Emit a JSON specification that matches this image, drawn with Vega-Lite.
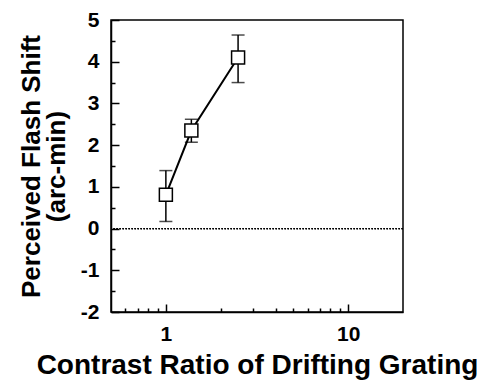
{
  "$schema": "https://vega.github.io/schema/vega-lite/v6.json",
  "width": 292,
  "height": 292,
  "autosize": {"type": "none"},
  "padding": {"left": 111, "top": 20, "right": 74, "bottom": 73},
  "background": "white",
  "data": {
    "values": [
      {"contrast": 1.0, "shift": 0.81, "lo": 0.17, "hi": 1.39},
      {"contrast": 1.38, "shift": 2.35, "lo": 2.07, "hi": 2.62},
      {"contrast": 2.49, "shift": 4.10, "lo": 3.50, "hi": 4.64}
    ]
  },
  "encoding": {
    "x": {
      "field": "contrast",
      "type": "quantitative",
      "scale": {"type": "log", "domain": [0.5, 20], "nice": false},
      "axis": {
        "title": "Contrast Ratio of Drifting Grating",
        "values": [0.6, 0.7, 0.8, 0.9, 1, 2, 3, 4, 5, 6, 7, 8, 9, 10],
        "labelExpr": "datum.value == 1 || datum.value == 10 ? '' + datum.value : ''",
        "tickSize": {"condition": {"test": "datum.value == 1 || datum.value == 10", "value": -8}, "value": -4},
        "labelPadding": 19,
        "titleY": 61,
        "titleBaseline": "alphabetic",
        "titleFontSize": 28
      }
    },
    "y": {
      "field": "shift",
      "type": "quantitative",
      "scale": {"domain": [-2, 5], "nice": false, "zero": false},
      "axis": {
        "title": ["Perceived Flash Shift", "(arc-min)"],
        "values": [-2, -1.5, -1, -0.5, 0, 0.5, 1, 1.5, 2, 2.5, 3, 3.5, 4, 4.5, 5],
        "labelExpr": "datum.value % 1 == 0 ? '' + datum.value : ''",
        "tickSize": {"condition": {"test": "datum.value % 1 == 0", "value": -8}, "value": -4},
        "labelPadding": 20,
        "titleX": -72,
        "titleBaseline": "alphabetic",
        "titleFontSize": 26,
        "titleLineHeight": 25
      }
    }
  },
  "layer": [
    {
      "mark": {"type": "rule", "color": "black", "strokeWidth": 1.2, "strokeDash": [1.5, 1.5]},
      "encoding": {"y": {"datum": 0}, "x": null}
    },
    {
      "mark": {"type": "rule", "color": "black", "strokeWidth": 1.5},
      "encoding": {"y": {"field": "lo", "type": "quantitative"}, "y2": {"field": "hi"}}
    },
    {
      "mark": {"type": "tick", "orient": "horizontal", "color": "black", "size": 13, "thickness": 1.5},
      "encoding": {"y": {"field": "lo", "type": "quantitative"}}
    },
    {
      "mark": {"type": "tick", "orient": "horizontal", "color": "black", "size": 13, "thickness": 1.5},
      "encoding": {"y": {"field": "hi", "type": "quantitative"}}
    },
    {
      "mark": {"type": "line", "color": "black", "strokeWidth": 2}
    },
    {
      "mark": {"type": "point", "shape": "square", "size": 169, "filled": true, "fill": "white", "stroke": "black", "strokeWidth": 1.5, "opacity": 1}
    }
  ],
  "config": {
    "view": {"stroke": "black", "strokeWidth": 1.5},
    "font": "Liberation Sans",
    "axis": {
      "grid": false,
      "domainColor": "black",
      "domainWidth": 1.5,
      "tickColor": "black",
      "tickWidth": 1.5,
      "labelFont": "Liberation Sans",
      "labelFontWeight": "bold",
      "labelFontSize": 21,
      "labelColor": "black",
      "titleFont": "Liberation Sans",
      "titleFontWeight": "bold",
      "titleColor": "black"
    }
  }
}
